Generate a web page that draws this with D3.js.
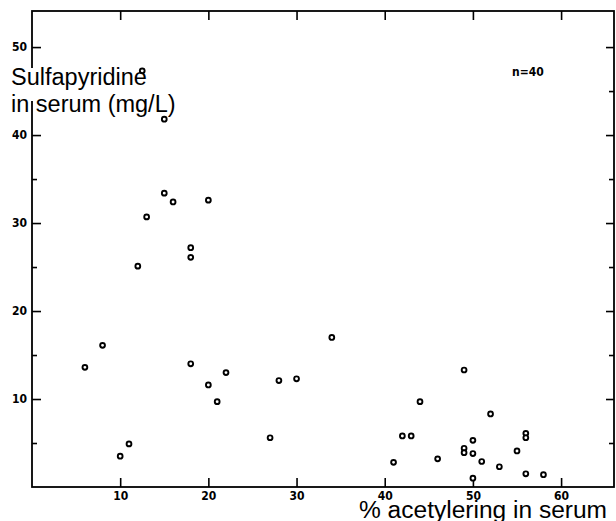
<!DOCTYPE html>
<html>
<head>
<meta charset="utf-8">
<script src="https://cdn.jsdelivr.net/npm/d3@7"></script>
<style>
  body { margin: 0; background: #fff; }
  .tick text { font-family: 'DejaVu Sans Condensed', 'Liberation Sans Narrow', sans-serif;
               font-stretch: condensed; font-weight: bold; font-size: 12px; fill: #000; }
  .tick line { stroke: #000; stroke-width: 1.6; }
  .label { font-family: 'Liberation Sans', Arial, sans-serif; fill: #000; }
</style>
</head>
<body>
<div class="chart"></div>
<script>
// % acetylation (x) and sulfapyridine in serum (y), one entry per patient
var acetylation = [12.5, 15, 15, 16, 20, 13, 18, 18, 12, 8, 6, 18, 22, 20, 21, 10, 11,
                   27, 28, 30, 34, 41, 42, 43, 44, 46, 49, 49, 49, 50, 50, 50, 51, 52,
                   53, 55, 56, 56, 56, 58];
var sulfapyridine = [47.3, 41.8, 33.4, 32.4, 32.6, 30.7, 27.2, 26.1, 25.1, 16.1, 13.6,
                     14.0, 13.0, 11.6, 9.7, 3.5, 4.9, 5.6, 12.1, 12.3, 17.0, 2.8, 5.8,
                     5.8, 9.7, 3.2, 13.3, 4.4, 3.9, 5.3, 3.8, 1.0, 2.9, 8.3, 2.3, 4.1,
                     6.1, 5.6, 1.5, 1.4];

var xTicks = [10, 20, 30, 40, 50, 60];
var yTicks = [10, 20, 30, 40, 50];
var yMinorTicks = [5, 15, 25, 35, 45];

var yLabelLines = ["Sulfapyridine", "in serum (mg/L)"];
var xLabelText = "% acetylering in serum";
var countText = "n=40";

window.onload = function()
{
  var width = 616, height = 521;
  var margin = {top: 11, right: 2, bottom: 34, left: 32};

  var svg = d3.select(".chart")
              .append("svg")
              .attr("width", width)
              .attr("height", height);

  var x = d3.scaleLinear()
            .domain([0, 66])
            .range([margin.left, width - margin.right]);

  var y = d3.scaleLinear()
            .domain([0, 54.1])
            .range([height - margin.bottom, margin.top]);

  var x0 = x.range()[0], x1 = x.range()[1];
  var y0 = y.range()[0], y1 = y.range()[1];

  // bottom axis, ticks pointing inward
  svg.append("g")
     .attr("transform", "translate(0," + y0 + ")")
     .call(d3.axisBottom(x).tickValues(xTicks).tickSize(-9).tickSizeOuter(0).tickPadding(4));

  // top axis, no labels
  svg.append("g")
     .attr("transform", "translate(0," + y1 + ")")
     .call(d3.axisTop(x).tickValues(xTicks).tickSize(-9).tickSizeOuter(0).tickFormat(""));

  // left axis, labelled and minor ticks
  svg.append("g")
     .attr("transform", "translate(" + x0 + ",0)")
     .call(d3.axisLeft(y).tickValues(yTicks).tickSize(-9).tickSizeOuter(0).tickPadding(5));
  svg.append("g")
     .attr("transform", "translate(" + x0 + ",0)")
     .call(d3.axisLeft(y).tickValues(yMinorTicks).tickSize(-5).tickSizeOuter(0).tickFormat(""));

  // right axis
  svg.append("g")
     .attr("transform", "translate(" + x1 + ",0)")
     .call(d3.axisRight(y).tickValues(yTicks).tickSize(-8).tickSizeOuter(0).tickFormat(""));
  svg.append("g")
     .attr("transform", "translate(" + x1 + ",0)")
     .call(d3.axisRight(y).tickValues(yMinorTicks).tickSize(-5).tickSizeOuter(0).tickFormat(""));

  svg.selectAll(".domain").remove();

  // frame
  svg.append("rect")
     .attr("x", x0)
     .attr("y", y1)
     .attr("width", x1 - x0)
     .attr("height", y0 - y1)
     .attr("fill", "none")
     .attr("stroke", "#000")
     .attr("stroke-width", 1.8);

  // y label sits over the axis, with white behind it
  svg.append("rect")
     .attr("x", 8)
     .attr("y", 68)
     .attr("width", 140)
     .attr("height", 33)
     .attr("fill", "#fff");

  svg.append("text")
     .attr("class", "label")
     .attr("x", 11)
     .attr("y", 85)
     .style("font-size", "23.5px")
     .text(yLabelLines[0]);

  svg.append("text")
     .attr("class", "label")
     .attr("x", 11)
     .attr("y", 112)
     .style("font-size", "23.5px")
     .style("stroke", "#fff")
     .style("stroke-width", 5)
     .style("paint-order", "stroke")
     .text(yLabelLines[1]);

  svg.append("text")
     .attr("class", "label")
     .attr("x", 359)
     .attr("y", 518)
     .attr("textLength", 248)
     .attr("lengthAdjust", "spacingAndGlyphs")
     .style("font-size", "23px")
     .text(xLabelText);

  svg.append("text")
     .attr("x", 512)
     .attr("y", 76)
     .style("font-family", "'DejaVu Sans Condensed', 'Liberation Sans Narrow', sans-serif")
     .style("font-stretch", "condensed")
     .style("font-weight", "bold")
     .style("font-size", "12px")
     .text(countText);

  // points
  svg.append("g")
     .selectAll("circle")
     .data(acetylation)
     .enter()
     .append("circle")
     .attr("cx", function(d) { return x(d); })
     .attr("cy", function(d, i) { return y(sulfapyridine[i]); })
     .attr("r", 2.4)
     .attr("fill", "#fff")
     .attr("stroke", "#000")
     .attr("stroke-width", 1.9);
}
</script>
</body>
</html>
